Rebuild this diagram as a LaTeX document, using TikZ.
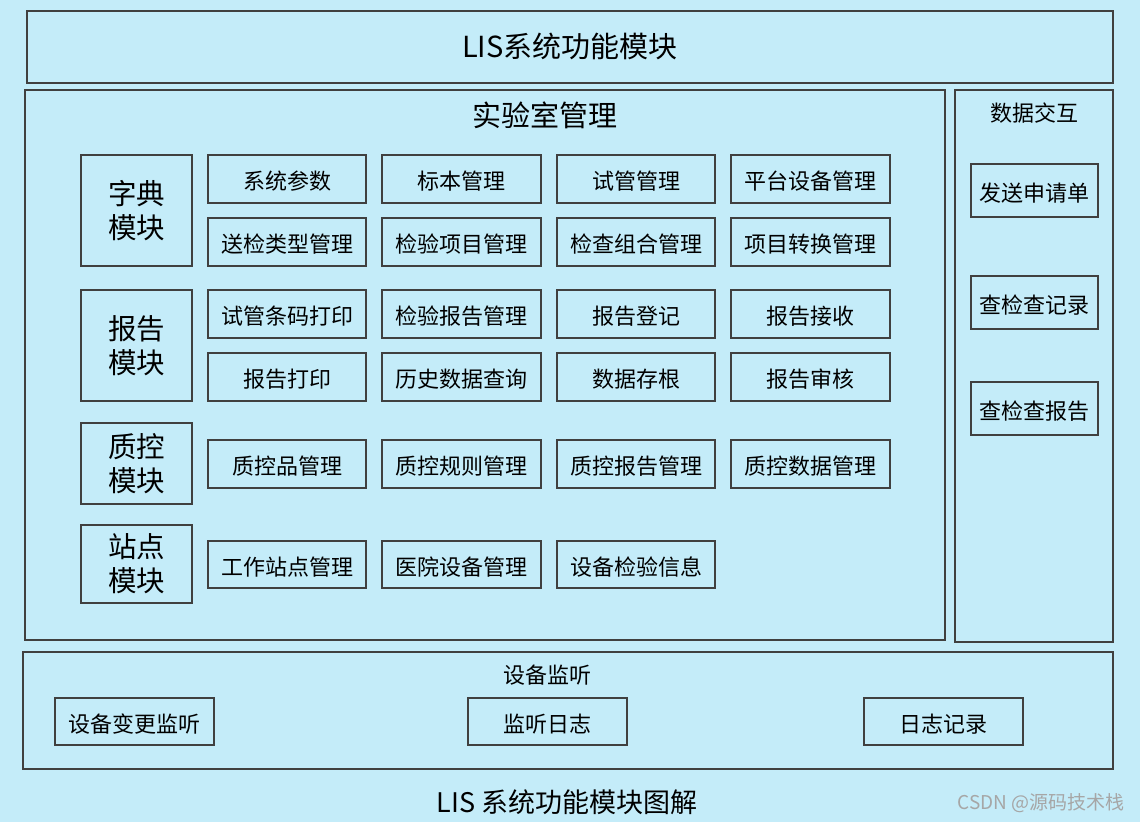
\documentclass[tikz,border=0pt]{standalone}
\usepackage{fontspec}
\setmainfont{Noto Sans CJK SC}
\definecolor{bg}{HTML}{C4ECF9}
\definecolor{ln}{HTML}{404040}
\begin{document}
\begin{tikzpicture}[x=1pt,y=-1pt,
  frame/.style={draw=ln,line width=1.5pt},
  item/.style={draw=ln,line width=1.5pt,inner sep=0pt,font=\fontsize{22}{24}\selectfont},
  itemt/.style={item,text height=21pt,text depth=0pt},
  lbl/.style={inner sep=0pt,font=\fontsize{22}{24}\selectfont}]
\fill[bg] (0,0) rectangle (1140,822);
\useasboundingbox (0,0) rectangle (1140,822);
% frames
\draw[frame] (27,11) rectangle (1113,83);
\node[lbl,font=\fontsize{29}{31}\selectfont] (title) at (570,46) {LIS系统功能模块};
\draw[frame] (25,90) rectangle (945,640);
\node[lbl,font=\fontsize{29}{31}\selectfont] (lab) at (545,115) {实验室管理};
\draw[frame] (955,90) rectangle (1113,642);
\node[lbl] (dx) at (1034,113) {数据交互};
\draw[frame] (23,652) rectangle (1113,769);
\node[lbl] (jt) at (547,675) {设备监听};
% module boxes
\newcommand{\modbox}[6]{\node[item,font=\fontsize{28.5}{34}\selectfont,align=center,minimum width=#3-#1,minimum height=#4-#2] (#5) at ({(#1+#3)/2},{(#2+#4)/2}) {#6};}
\modbox{81}{155}{192}{266}{m1}{字典\\模块}
\modbox{81}{290}{192}{401}{m2}{报告\\模块}
\modbox{81}{423}{192}{504}{m3}{质控\\模块}
\modbox{81}{525}{192}{603}{m4}{站点\\模块}
% items
\newcommand{\itbox}[6]{\node[itemt,minimum width=#3-#1,minimum height=#4-#2] (#5) at ({(#1+#3)/2},{(#2+#4)/2}) {#6};}
\itbox{208}{155}{366}{203}{a1}{系统参数}
\itbox{382}{155}{541}{203}{a2}{标本管理}
\itbox{557}{155}{715}{203}{a3}{试管管理}
\itbox{731}{155}{890}{203}{a4}{平台设备管理}
\itbox{208}{218}{366}{266}{b1}{送检类型管理}
\itbox{382}{218}{541}{266}{b2}{检验项目管理}
\itbox{557}{218}{715}{266}{b3}{检查组合管理}
\itbox{731}{218}{890}{266}{b4}{项目转换管理}
\itbox{208}{290}{366}{338}{c1}{试管条码打印}
\itbox{382}{290}{541}{338}{c2}{检验报告管理}
\itbox{557}{290}{715}{338}{c3}{报告登记}
\itbox{731}{290}{890}{338}{c4}{报告接收}
\itbox{208}{353}{366}{401}{d1}{报告打印}
\itbox{382}{353}{541}{401}{d2}{历史数据查询}
\itbox{557}{353}{715}{401}{d3}{数据存根}
\itbox{731}{353}{890}{401}{d4}{报告审核}
\itbox{208}{440}{366}{488}{e1}{质控品管理}
\itbox{382}{440}{541}{488}{e2}{质控规则管理}
\itbox{557}{440}{715}{488}{e3}{质控报告管理}
\itbox{731}{440}{890}{488}{e4}{质控数据管理}
\itbox{208}{541}{366}{588}{f1}{工作站点管理}
\itbox{382}{541}{541}{588}{f2}{医院设备管理}
\itbox{557}{541}{715}{588}{f3}{设备检验信息}
% data
\itbox{971}{164}{1098}{217}{g1}{发送申请单}
\itbox{971}{276}{1098}{329}{g2}{查检查记录}
\itbox{971}{382}{1098}{435}{g3}{查检查报告}
% bottom
\itbox{55}{698}{214}{745}{h1}{设备变更监听}
\itbox{468}{698}{627}{745}{h2}{监听日志}
\itbox{864}{698}{1023}{745}{h3}{日志记录}
\node[lbl,font=\fontsize{27}{29}\selectfont] (cap) at (567,802) {LIS 系统功能模块图解};
\node[lbl,anchor=east,text=gray!70,font=\fontsize{19}{21}\selectfont] (wm) at (1125,803) {CSDN @源码技术栈};
\end{tikzpicture}
\end{document}
